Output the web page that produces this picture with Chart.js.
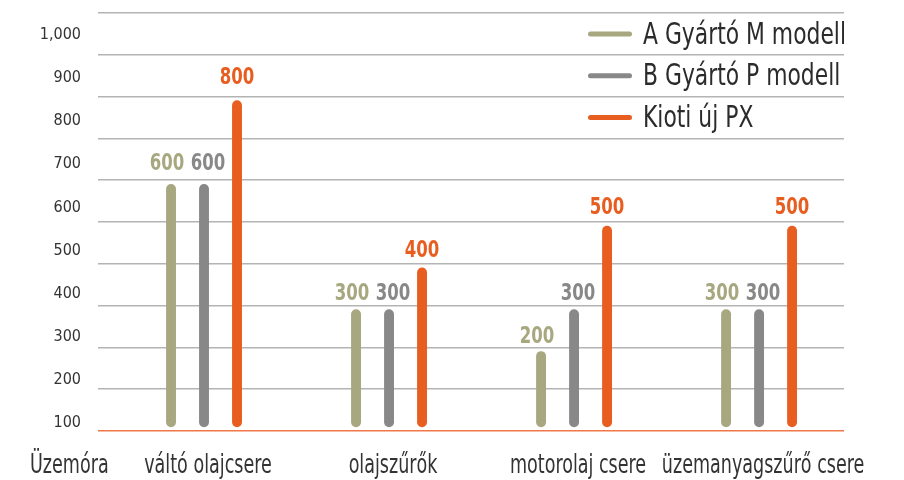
<!DOCTYPE html>
<html lang="hu">
<head>
<meta charset="utf-8">
<title>Üzemóra</title>
<script src="https://cdn.jsdelivr.net/npm/chart.js@4.4.1/dist/chart.umd.min.js"></script>
<style>
  html, body { margin: 0; padding: 0; background: #fff; }
  #wrap { width: 904px; height: 480px; position: relative; }
</style>
</head>
<body>
<div id="wrap"><canvas id="chart"></canvas></div>
<script>
// adatok
const categories = ['váltó olajcsere', 'olajszűrők', 'motorolaj csere', 'üzemanyagszűrő csere'];
const seriesNames = ['A Gyártó M modell', 'B Gyártó P modell', 'Kioti új PX'];
const gyartoA = [600, 300, 200, 300];
const gyartoB = [600, 300, 300, 300];
const kioti = [800, 400, 500, 500];
const yTicks = [100, 200, 300, 400, 500, 600, 700, 800, 900, 1000];
const unitLabel = 'Üzemóra';

const FONT = "'Liberation Sans Narrow', 'DejaVu Sans Condensed', 'Liberation Sans', sans-serif";
Chart.defaults.font.family = FONT;
Chart.defaults.color = '#333';

const series = [gyartoA, gyartoB, kioti];
const colors = ['#a7a780', '#888888', '#e85e20'];
const labelShift = [-4, 4, 0];
const capInset = 9;

const datasets = series.map((vals, i) => ({
    label: seriesNames[i],
    data: vals.map((v, j) => ({ x: j, y: [capInset, v - capInset] })),
    backgroundColor: colors[i],
    borderRadius: 5,
    borderSkipped: false,
    categoryPercentage: 0.535,
    barPercentage: 0.3
}));

// keskenyített szöveg
function narrowText(ctx, text, x, y, sx) {
    ctx.save();
    ctx.translate(x, y);
    ctx.scale(sx, 1);
    ctx.fillText(text, 0, 0);
    ctx.restore();
}

// értékcímkék, jelmagyarázat, kategória feliratok
const extras = {
    id: 'extras',
    afterDatasetsDraw(chart) {
        const { ctx, scales } = chart;
        ctx.save();
        ctx.font = 'bold 23px ' + FONT;
        ctx.textAlign = 'center';
        ctx.textBaseline = 'alphabetic';
        series.forEach((vals, i) => {
            const meta = chart.getDatasetMeta(i);
            ctx.fillStyle = colors[i];
            vals.forEach((v, j) => {
                const x = meta.data[j].x + labelShift[i];
                const y = scales.yLabels.getPixelForValue(v) - 37;
                narrowText(ctx, String(v), x, y, 0.8);
            });
        });
        ctx.restore();
    },
    afterDraw(chart) {
        const { ctx, chartArea, scales } = chart;
        ctx.save();
        // jelmagyarázat
        const x0 = chartArea.right - 256;
        ctx.font = '30px ' + FONT;
        ctx.textAlign = 'left';
        ctx.textBaseline = 'middle';
        ctx.lineCap = 'round';
        ctx.lineWidth = 5;
        seriesNames.forEach((name, i) => {
            const cy = scales.y.getPixelForValue(950 - 100 * i);
            ctx.strokeStyle = colors[i];
            ctx.beginPath();
            ctx.moveTo(x0 + 2.5, cy);
            ctx.lineTo(x0 + 41.5, cy);
            ctx.stroke();
            ctx.fillStyle = '#2b2b2b';
            narrowText(ctx, name, x0 + 55, cy + 2, 0.81);
        });
        // kategóriák és az egység
        const base = scales.x.top + 42;
        ctx.font = '26px ' + FONT;
        ctx.fillStyle = '#333';
        ctx.textBaseline = 'alphabetic';
        ctx.textAlign = 'center';
        categories.forEach((c, i) => {
            narrowText(ctx, c, scales.x.getPixelForValue(i) + 4, base, 0.75);
        });
        ctx.textAlign = 'left';
        narrowText(ctx, unitLabel, 30, base, 0.75);
        ctx.restore();
    }
};

new Chart(document.getElementById('chart'), {
    type: 'bar',
    data: { datasets: datasets },
    plugins: [extras],
    options: {
        responsive: true,
        maintainAspectRatio: false,
        animation: false,
        layout: { padding: { top: 13, right: 60, bottom: 0, left: 0 } },
        plugins: {
            legend: { display: false },
            tooltip: { enabled: false }
        },
        scales: {
            x: {
                type: 'linear',
                bounds: 'data',
                offset: false,
                min: -0.573,
                max: 3.459,
                grid: { display: false, drawTicks: false, offset: false },
                border: { display: false },
                afterBuildTicks: s => { s.ticks = categories.map((c, i) => ({ value: i })); },
                ticks: { display: false },
                afterFit: s => {
                    s.height = 49;
                    s.paddingLeft = 0;
                    s.paddingRight = 0;
                }
            },
            y: {
                min: 0,
                max: 1000,
                ticks: { display: false, stepSize: 100 },
                grid: {
                    color: c => c.tick.value === 0 ? '#f07848' : '#b4b4b4',
                    lineWidth: 1.5,
                    drawTicks: false
                },
                border: { display: false },
                afterFit: s => {
                    s.width = 0;
                    s.paddingTop = 0;
                    s.paddingBottom = 0;
                }
            },
            yLabels: {
                type: 'linear',
                position: 'left',
                weight: 1,
                bounds: 'data',
                min: 81.4,
                max: 1051,
                afterBuildTicks: s => { s.ticks = yTicks.map(v => ({ value: v })); },
                ticks: {
                    callback: v => v.toLocaleString('en-US'),
                    font: { size: 16 },
                    color: '#333',
                    padding: 17
                },
                grid: { display: false, drawTicks: false },
                border: { display: false },
                afterFit: s => {
                    s.width = 98;
                    s.paddingTop = 0;
                    s.paddingBottom = 0;
                }
            }
        }
    }
});
</script>
</body>
</html>
